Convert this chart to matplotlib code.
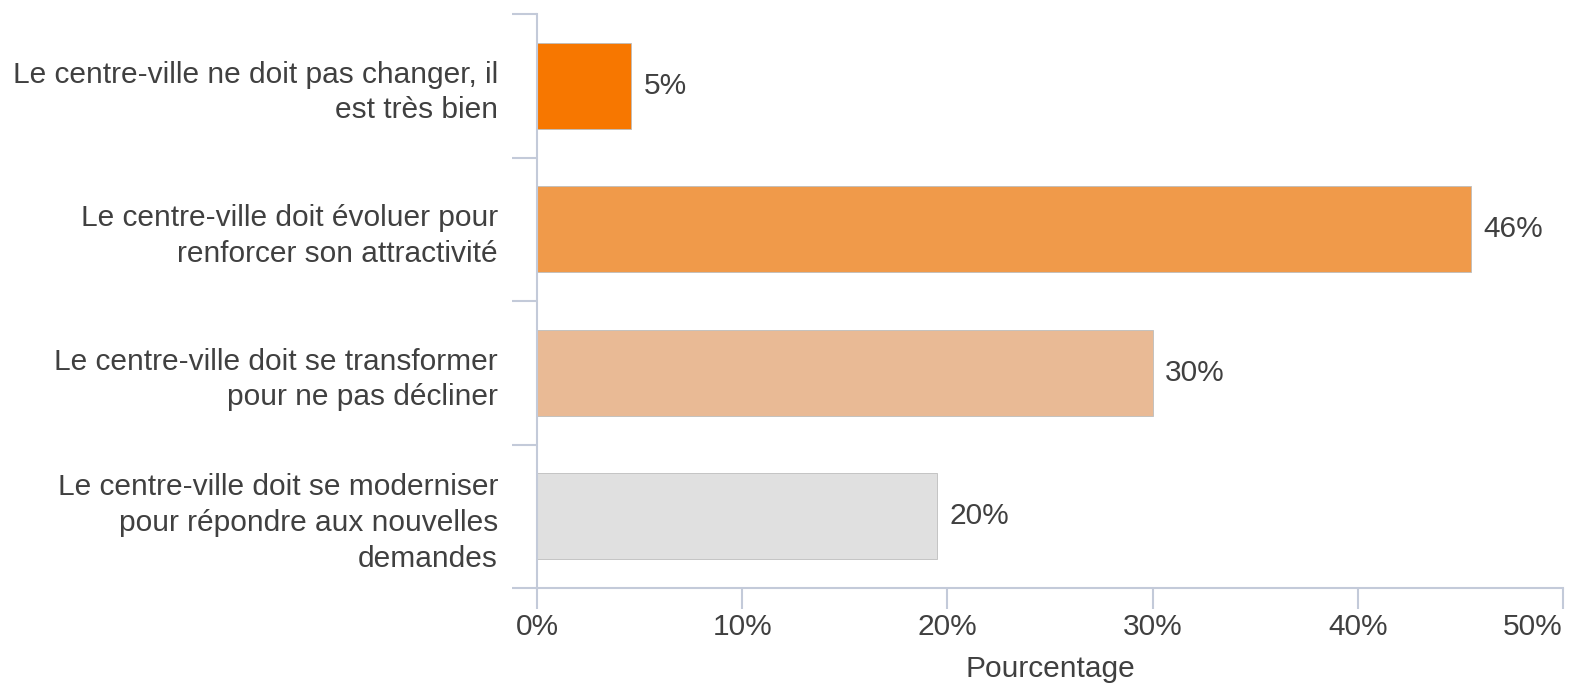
import numpy as np
import matplotlib.pyplot as plt
from matplotlib.ticker import FixedLocator

# data
categories = [
    "Le centre-ville ne doit pas changer, il\nest très bien",
    "Le centre-ville doit évoluer pour\nrenforcer son attractivité",
    "Le centre-ville doit se transformer\npour ne pas décliner",
    "Le centre-ville doit se moderniser\npour répondre aux nouvelles\ndemandes",
]
values = [4.6, 45.5, 30.0, 19.5]
value_labels = ["5%", "46%", "30%", "20%"]
colors = ["#F77700", "#F09A4A", "#E9BA95", "#E0E0E0"]
xticks = [0, 10, 20, 30, 40, 50]

plt.rcParams['font.family'] = ['Liberation Sans', 'DejaVu Sans']
text_col = "#404040"
axis_col = "#C3CAD9"
fs = 21.5

fig = plt.figure(figsize=(15.69, 6.84), dpi=100)
ax = fig.add_axes([537 / 1569, 1 - 588 / 684, (1563 - 537) / 1569, (588 - 14) / 684])

y = np.arange(len(categories))
bars = ax.barh(y, values, height=0.6, color=colors, edgecolor="#BDBDBD", linewidth=0.6)

for b, lab in zip(bars, value_labels):
    ax.text(b.get_width() + 0.6, b.get_y() + b.get_height() / 2, lab,
            va='center', ha='left', fontsize=fs, color=text_col)

ax.set_xlim(0, 50)
ax.set_ylim(len(categories) - 0.5, -0.5)

ax.set_yticks(y)
ax.set_yticklabels(categories, fontsize=fs, color=text_col, linespacing=1.35)
ax.yaxis.set_minor_locator(FixedLocator(np.arange(len(categories) + 1) - 0.5))
ax.tick_params(axis='y', which='major', length=0, pad=28)
ax.tick_params(axis='y', which='minor', length=18, width=1.5, color=axis_col)

ax.set_xticks(xticks)
ax.set_xticklabels([f"{t}%" for t in xticks], fontsize=fs, color=text_col)
ax.get_xticklabels()[-1].set_horizontalalignment('right')
ax.tick_params(axis='x', length=15, width=1.5, color=axis_col, pad=3)
ax.set_xlabel("Pourcentage", fontsize=fs, color=text_col, labelpad=10)

for s in ['top', 'right']:
    ax.spines[s].set_visible(False)
for s in ['left', 'bottom']:
    ax.spines[s].set_color(axis_col)
    ax.spines[s].set_linewidth(1.5)

fig.savefig("out.png", dpi=100)
